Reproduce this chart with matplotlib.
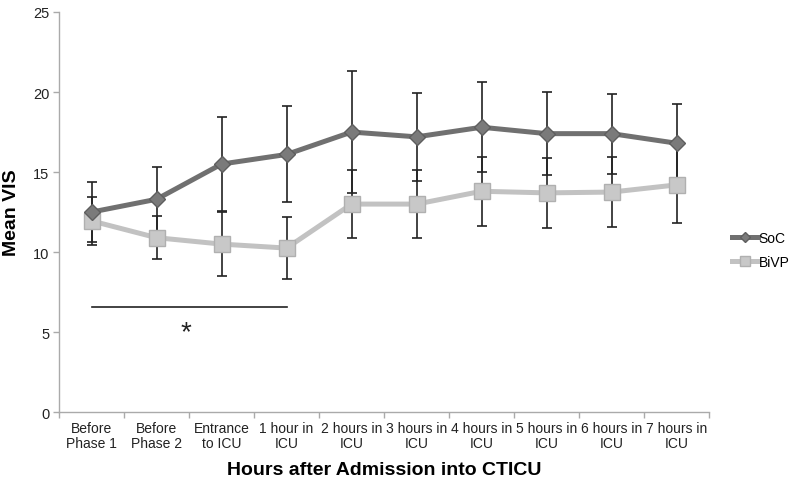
import numpy as np
import matplotlib.pyplot as plt

plt.rcParams['font.family'] = ['Liberation Sans', 'DejaVu Sans']

categories = ["Before\nPhase 1", "Before\nPhase 2", "Entrance\nto ICU", "1 hour in\nICU",
              "2 hours in\nICU", "3 hours in\nICU", "4 hours in\nICU", "5 hours in\nICU",
              "6 hours in\nICU", "7 hours in\nICU"]
soc = [12.5, 13.3, 15.5, 16.1, 17.5, 17.2, 17.8, 17.4, 17.4, 16.8]
soc_err = [1.9, 2.0, 2.95, 3.0, 3.8, 2.75, 2.8, 2.6, 2.5, 2.45]
bivp = [11.95, 10.9, 10.5, 10.25, 13.0, 13.0, 13.8, 13.7, 13.75, 14.2]
bivp_err = [1.5, 1.35, 2.0, 1.95, 2.1, 2.1, 2.15, 2.2, 2.2, 2.4]

x = np.arange(len(categories))

fig = plt.figure(figsize=(7.9, 4.81), dpi=100)
ax = fig.add_axes([0.0747, 0.141, 0.823, 0.832])

# error bars first so the lines and markers sit on top
ax.errorbar(x, soc, yerr=soc_err, fmt='none', ecolor='#222222', elinewidth=1.2,
            capsize=3.6, capthick=1.2, zorder=2)
ax.errorbar(x, bivp, yerr=bivp_err, fmt='none', ecolor='#222222', elinewidth=1.2,
            capsize=3.6, capthick=1.2, zorder=2)

ax.plot(x, soc, color='#707070', lw=3.6, marker='D', markersize=8,
        markerfacecolor='#7a7a7a', markeredgecolor='#5e5e5e', markeredgewidth=1,
        label='SoC', zorder=4)
ax.plot(x, bivp, color='#c2c2c2', lw=3.6, marker='s', markersize=11,
        markerfacecolor='#c8c8c8', markeredgecolor='#b0b0b0', markeredgewidth=1,
        label='BiVP', zorder=3)

# significance bar
ax.plot([0, 3], [6.55, 6.55], color='#222222', lw=1.2, zorder=2)
ax.text(1.45, 5.0, '*', fontsize=20, ha='center', va='center', color='#222222')

ax.set_xlim(-0.5, 9.5)
ax.set_ylim(0, 25)
ax.set_yticks([0, 5, 10, 15, 20, 25])
ax.set_xticks(x)
ax.set_xticklabels(categories, fontsize=10, color='#222222', linespacing=1.15)
ax.set_xticks(np.arange(-0.5, 10, 1), minor=True)
ax.tick_params(axis='x', which='major', length=0, pad=6)
ax.tick_params(axis='x', which='minor', length=4, color='#aaaaaa', width=1)
ax.tick_params(axis='y', length=4, color='#aaaaaa', width=1, labelsize=10.5,
               labelcolor='#222222', pad=3)

for s in ['top', 'right']:
    ax.spines[s].set_visible(False)
for s in ['left', 'bottom']:
    ax.spines[s].set_color('#aaaaaa')
    ax.spines[s].set_linewidth(1)

ax.set_ylabel('Mean VIS', fontsize=14, fontweight='bold')
ax.yaxis.set_label_coords(-0.06, 0.5)
ax.set_xlabel('Hours after Admission into CTICU', fontsize=14, fontweight='bold',
              labelpad=8)

handles, labels = ax.get_legend_handles_labels()
fig.legend(handles, labels, loc='upper left', bbox_to_anchor=(0.926, 0.518),
           frameon=False, fontsize=10, handlelength=1.9, handletextpad=0.05,
           labelspacing=0.75, markerscale=0.6, borderpad=0, borderaxespad=0)

fig.savefig('out.png', dpi=100)
